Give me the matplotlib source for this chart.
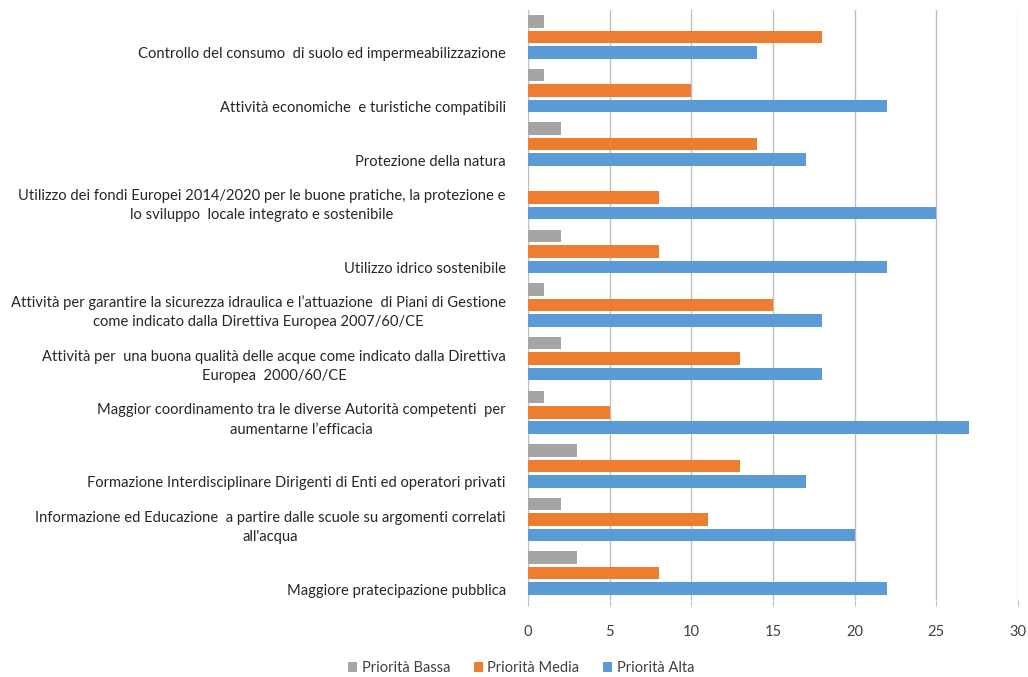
import matplotlib
matplotlib.use("Agg")
import matplotlib.pyplot as plt
import matplotlib.transforms as mtransforms
from matplotlib.patches import Patch

plt.rcParams['font.family'] = ['Lato', 'DejaVu Sans']

categories = [
    "Controllo del consumo  di suolo ed impermeabilizzazione",
    "Attività economiche  e turistiche compatibili",
    "Protezione della natura",
    "Utilizzo dei fondi Europei 2014/2020 per le buone pratiche, la protezione e\nlo sviluppo  locale integrato e sostenibile",
    "Utilizzo idrico sostenibile",
    "Attività per garantire la sicurezza idraulica e l\u2019attuazione  di Piani di Gestione\ncome indicato dalla Direttiva Europea 2007/60/CE",
    "Attività per  una buona qualità delle acque come indicato dalla Direttiva\nEuropea  2000/60/CE",
    "Maggior coordinamento tra le diverse Autorità competenti  per\naumentarne l\u2019efficacia",
    "Formazione Interdisciplinare Dirigenti di Enti ed operatori privati",
    "Informazione ed Educazione  a partire dalle scuole su argomenti correlati\nall'acqua",
    "Maggiore pratecipazione pubblica",
]
bassa = [1, 1, 2, 0, 2, 1, 2, 1, 3, 2, 3]
media = [18, 10, 14, 8, 8, 15, 13, 5, 13, 11, 8]
alta = [14, 22, 17, 25, 22, 18, 18, 27, 17, 20, 22]
series_names = ["Priorità Bassa", "Priorità Media", "Priorità Alta"]
colors = ["#A5A5A5", "#ED7D31", "#5B9BD5"]
xticks = [0, 5, 10, 15, 20, 25, 30]

fig = plt.figure(figsize=(10.28, 6.77), dpi=100)
ax = fig.add_axes([528/1028, 1 - 600/677, 490/1028, 590/677])

n = len(categories)
pos = list(range(n))
off = 0.288
h = 0.235
for vals, dy, c in zip([bassa, media, alta], [-off, 0, off], colors):
    ax.barh([p + dy for p in pos], vals, height=h, color=c, zorder=3)

ax.set_xlim(0, 30)
ax.set_ylim(n - 0.5, -0.5)
ax.set_xticks(xticks)
ax.set_xticklabels([str(t) for t in xticks], fontsize=10.5, color="#404040")
ax.grid(axis='x', color="#BFBFBF", linewidth=1, zorder=0)
for s in ['top', 'right', 'bottom']:
    ax.spines[s].set_visible(False)
ax.spines['left'].set_color("#BFBFBF")
ax.tick_params(axis='x', length=4, color="#BFBFBF", pad=14)
ax.tick_params(axis='y', length=0, pad=16)

ax.set_yticks([p + off for p in pos])
ax.set_yticklabels(categories, fontsize=10.6, color="#262626", multialignment='center',
                   linespacing=1.5)
shift = mtransforms.ScaledTranslation(0, -6.5/72, fig.dpi_scale_trans)
for lab in ax.get_yticklabels():
    lab.set_va('bottom')
    lab.set_transform(lab.get_transform() + shift)

handles = [Patch(facecolor=c, label=nm) for c, nm in zip(colors, series_names)]
fig.legend(handles=handles, loc='center', bbox_to_anchor=(521/1028, 1 - 668/677), ncol=3,
           frameon=False, fontsize=10.5, handlelength=0.65, handleheight=0.65,
           columnspacing=1.6, handletextpad=0.3, labelcolor="#404040")

fig.savefig("out.png", dpi=100)
